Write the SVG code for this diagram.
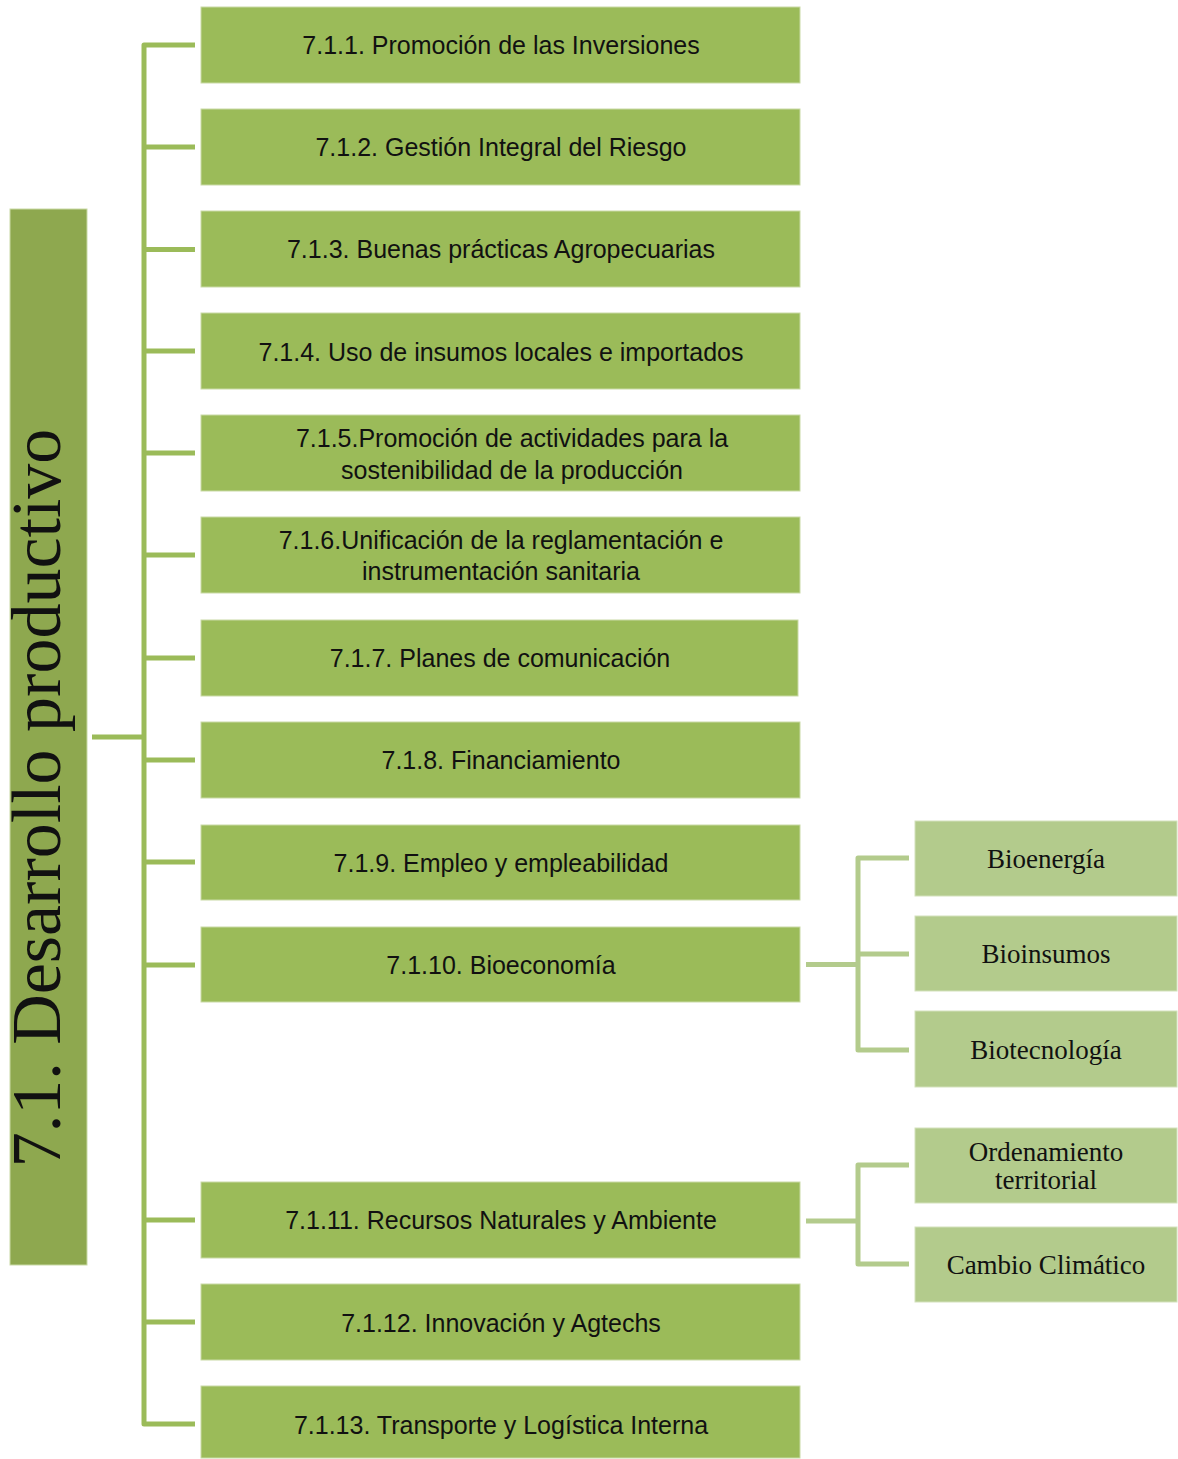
<svg xmlns="http://www.w3.org/2000/svg" width="1178" height="1459" viewBox="0 0 1178 1459">
<style>
.box{fill:#9BBB59;stroke:#C9DAA6;stroke-width:1}
.sub{fill:#B3CB8C;stroke:#D3E1BC;stroke-width:1}
.t{font-family:"Liberation Sans",Arial,sans-serif;font-size:25px;fill:#111;text-anchor:middle}
.s{font-family:"Liberation Serif","Times New Roman",serif;font-size:27px;fill:#111;text-anchor:middle}
.ln{fill:none;stroke:#9BBB59;stroke-width:5;stroke-linejoin:round;stroke-linecap:butt}
.ln2{fill:none;stroke:#B3CB8C;stroke-width:5;stroke-linejoin:round;stroke-linecap:butt}
</style>
<rect width="1178" height="1459" fill="#fff"/>
<g id="connectors">
<path class="ln" d="M92,737 H144"/>
<path class="ln" d="M195,45 H144 V1424 H195"/>
<path class="ln" d="M144,147 H195 M144,249.5 H195 M144,351 H195 M144,453 H195 M144,555 H195 M144,658 H195 M144,760 H195 M144,862 H195 M144,965 H195 M144,1220 H195 M144,1322 H195"/>
<path class="ln2" d="M806,964.5 H858 M909,858 H858 V1050 H909 M858,954 H909"/>
<path class="ln2" d="M806,1221 H858 M909,1165 H858 V1264 H909"/>
</g>
<g id="title">
<rect x="10" y="209" width="77" height="1056" fill="#8EA84F" stroke="#C9DAA6" stroke-width="1"/>
<text transform="translate(60,798) rotate(-90)" font-family="'Liberation Serif','Times New Roman',serif" font-size="70" fill="#111" text-anchor="middle">7.1. Desarrollo productivo</text>
</g>
<g id="n1"><rect class="box" x="201" y="7" width="599" height="76"/><text class="t" x="501" y="54">7.1.1. Promoción de las Inversiones</text></g>
<g id="n2"><rect class="box" x="201" y="109" width="599" height="76"/><text class="t" x="501" y="156">7.1.2. Gestión Integral del Riesgo</text></g>
<g id="n3"><rect class="box" x="201" y="211" width="599" height="76"/><text class="t" x="501" y="258">7.1.3. Buenas prácticas Agropecuarias</text></g>
<g id="n4"><rect class="box" x="201" y="313" width="599" height="76"/><text class="t" x="501" y="361">7.1.4. Uso de insumos locales e importados</text></g>
<g id="n5"><rect class="box" x="201" y="415" width="599" height="76"/><text class="t" x="512" y="447">7.1.5.Promoción de actividades para la</text><text class="t" x="512" y="479">sostenibilidad de la producción</text></g>
<g id="n6"><rect class="box" x="201" y="517" width="599" height="76"/><text class="t" x="501" y="549">7.1.6.Unificación de la reglamentación e</text><text class="t" x="501" y="580">instrumentación sanitaria</text></g>
<g id="n7"><rect class="box" x="201" y="620" width="597" height="76"/><text class="t" x="500" y="667">7.1.7. Planes de comunicación</text></g>
<g id="n8"><rect class="box" x="201" y="722" width="599" height="76"/><text class="t" x="501" y="769">7.1.8. Financiamiento</text></g>
<g id="n9"><rect class="box" x="201" y="825" width="599" height="75"/><text class="t" x="501" y="872">7.1.9. Empleo y empleabilidad</text></g>
<g id="n10"><rect class="box" x="201" y="927" width="599" height="75"/><text class="t" x="501" y="974">7.1.10. Bioeconomía</text></g>
<g id="n11"><rect class="box" x="201" y="1182" width="599" height="76"/><text class="t" x="501" y="1229">7.1.11. Recursos Naturales y Ambiente</text></g>
<g id="n12"><rect class="box" x="201" y="1284" width="599" height="76"/><text class="t" x="501" y="1332">7.1.12. Innovación y Agtechs</text></g>
<g id="n13"><rect class="box" x="201" y="1386" width="599" height="72"/><text class="t" x="501" y="1434">7.1.13. Transporte y Logística Interna</text></g>
<g id="s1"><rect class="sub" x="915" y="821" width="262" height="75"/><text class="s" x="1046" y="868">Bioenergía</text></g>
<g id="s2"><rect class="sub" x="915" y="916" width="262" height="75"/><text class="s" x="1046" y="963">Bioinsumos</text></g>
<g id="s3"><rect class="sub" x="915" y="1011" width="262" height="76"/><text class="s" x="1046" y="1059">Biotecnología</text></g>
<g id="s4"><rect class="sub" x="915" y="1128" width="262" height="75"/><text class="s" x="1046" y="1161">Ordenamiento</text><text class="s" x="1046" y="1189">territorial</text></g>
<g id="s5"><rect class="sub" x="915" y="1227" width="262" height="75"/><text class="s" x="1046" y="1274">Cambio Climático</text></g>
</svg>
